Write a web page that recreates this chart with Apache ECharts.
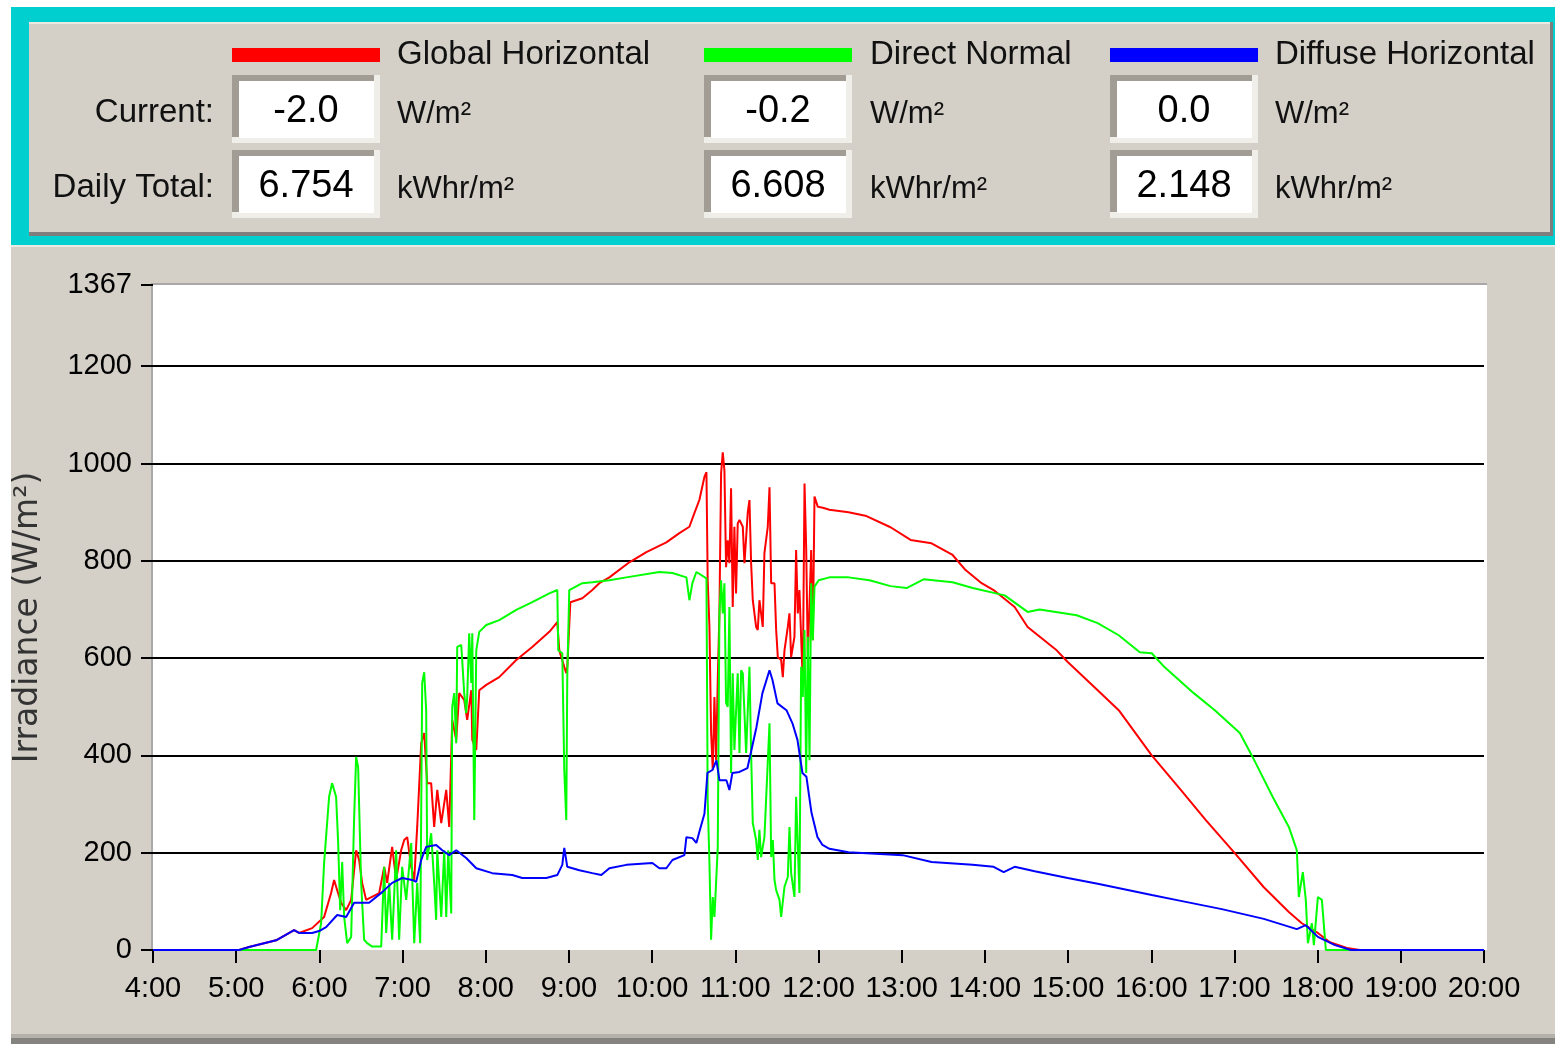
<!DOCTYPE html>
<html>
<head>
<meta charset="utf-8">
<script src="https://cdn.jsdelivr.net/npm/echarts@6/dist/echarts.min.js"></script>
<style>
html,body{margin:0;padding:0;background:#ffffff;}
#chart{width:1555px;height:1044px;}
</style>
</head>
<body>
<div id="chart"></div>
<script>
// ---------- data ----------
const seriesNames = ['Global Horizontal', 'Direct Normal', 'Diffuse Horizontal'];
const currentValues = ['-2.0', '-0.2', '0.0'];
const dailyTotals = ['6.754', '6.608', '2.148'];
const currentUnit = 'W/m²';
const totalUnit = 'kWhr/m²';
const rowLabels = ['Current:', 'Daily Total:'];
const yAxisTitle = 'Irradiance (W/m²)';
const yMin = 0, yMax = 1367, yStep = 200;
const xMinHour = 4, xMaxHour = 20;

// [hour, W/m²]
const globalHorizontal = [
  [4.0,0],[5.035,0],[5.155,6],[5.48,20],[5.696,41],[5.756,35],[5.913,45],[6.057,68],[6.141,117],[6.177,144],
  [6.214,123],[6.262,97],[6.322,82],[6.382,103],[6.442,205],[6.478,185],[6.514,138],[6.562,103],[6.719,117],
  [6.779,171],[6.815,138],[6.875,212],[6.923,144],[6.983,205],[7.020,226],[7.056,232],[7.104,171],[7.140,144],
  [7.176,253],[7.224,425],[7.260,446],[7.296,343],[7.344,343],[7.380,253],[7.417,329],[7.465,261],[7.525,329],
  [7.561,253],[7.597,473],[7.645,432],[7.681,528],[7.741,514],[7.777,473],[7.826,534],[7.838,432],[7.886,411],
  [7.922,534],[8.006,545],[8.162,561],[8.367,596],[8.559,623],[8.764,654],[8.860,674],[8.884,616],[8.944,582],
  [8.968,569],[8.980,582],[9.017,715],[9.161,723],[9.281,740],[9.365,754],[9.486,766],[9.726,797],[9.931,818],
  [10.171,838],[10.328,857],[10.448,870],[10.508,898],[10.568,925],[10.629,973],[10.653,982],
  [10.668,760],[10.689,664],[10.709,446],[10.729,370],[10.749,520],[10.769,390],[10.789,555],[10.809,692],
  [10.829,980],[10.849,1023],[10.869,986],[10.889,787],[10.909,842],[10.929,795],[10.949,949],[10.969,705],
  [10.989,870],[11.009,733],[11.029,877],[11.050,884],[11.090,870],[11.110,795],[11.150,900],[11.170,925],
  [11.190,795],[11.210,719],[11.250,664],[11.270,658],[11.290,719],[11.330,664],[11.350,816],[11.390,870],
  [11.411,951],[11.431,754],[11.471,754],[11.491,658],[11.511,602],[11.551,596],[11.571,561],[11.591,616],
  [11.631,664],[11.651,692],[11.671,602],[11.711,644],[11.731,822],[11.751,692],[11.771,740],[11.811,549],
  [11.832,959],[11.852,826],[11.872,602],[11.912,822],[11.932,637],[11.952,932],[11.992,911],[12.052,909],
  [12.132,905],[12.361,900],[12.577,892],[12.866,869],[13.107,843],[13.359,836],[13.612,812],[13.768,781],
  [13.961,754],[14.105,740],[14.358,705],[14.514,664],[14.863,616],[14.996,592],[15.356,534],[15.609,493],
  [16.006,400],[16.355,329],[16.656,267],[17.004,199],[17.353,129],[17.654,78],[17.810,55],[18.003,35],
  [18.147,16],[18.352,4],[18.508,0],[20.0,0]
];

const directNormal = [
  [4.0,0],[5.961,0],[6.021,55],[6.057,179],[6.117,315],[6.153,343],[6.177,345],[6.201,315],[6.226,220],
  [6.250,82],[6.274,181],[6.298,68],[6.334,14],[6.382,27],[6.418,273],[6.442,397],[6.466,376],[6.502,138],
  [6.538,21],[6.574,14],[6.635,7],[6.743,7],[6.779,171],[6.803,35],[6.839,138],[6.875,21],[6.923,205],
  [6.959,21],[6.995,171],[7.044,103],[7.104,220],[7.140,14],[7.176,138],[7.212,14],[7.236,549],[7.260,571],
  [7.284,493],[7.296,185],[7.344,240],[7.380,138],[7.404,62],[7.417,205],[7.465,68],[7.501,205],[7.525,68],
  [7.549,205],[7.585,75],[7.597,500],[7.621,528],[7.645,425],[7.657,623],[7.705,627],[7.717,596],[7.741,528],
  [7.765,487],[7.777,520],[7.801,651],[7.826,549],[7.838,651],[7.862,267],[7.886,616],[7.922,654],[8.006,668],
  [8.162,678],[8.367,699],[8.559,715],[8.764,733],[8.860,740],[8.872,616],[8.920,610],[8.944,370],[8.968,267],
  [8.980,561],[9.004,740],[9.161,754],[9.281,756],[9.486,760],[9.690,766],[10.087,777],[10.244,775],
  [10.412,766],[10.448,719],[10.484,754],[10.532,777],[10.653,764],
  [10.668,308],[10.689,179],[10.709,21],[10.729,109],[10.749,68],[10.769,138],[10.789,212],[10.809,692],
  [10.829,760],[10.849,692],[10.869,754],[10.889,508],[10.909,500],[10.929,705],[10.949,364],[10.969,569],
  [10.989,411],[11.029,569],[11.050,405],[11.070,575],[11.090,569],[11.110,487],[11.130,405],[11.170,582],
  [11.190,405],[11.210,261],[11.250,226],[11.270,185],[11.290,247],[11.310,191],[11.350,232],[11.411,466],
  [11.431,191],[11.451,226],[11.471,144],[11.491,123],[11.531,103],[11.551,68],[11.591,130],[11.631,150],
  [11.651,253],[11.671,158],[11.711,109],[11.731,315],[11.771,117],[11.791,582],[11.811,520],[11.832,658],
  [11.852,364],[11.872,644],[11.892,390],[11.912,754],[11.932,637],[11.952,747],[12.002,760],[12.132,766],
  [12.361,766],[12.613,760],[12.866,748],[13.059,744],[13.263,762],[13.612,756],[13.853,744],[14.238,729],
  [14.514,695],[14.659,700],[15.104,688],[15.356,672],[15.609,647],[15.862,612],[16.006,610],[16.162,581],
  [16.511,528],[16.764,493],[17.065,446],[17.209,400],[17.462,314],[17.654,253],[17.750,205],[17.774,109],
  [17.822,160],[17.858,103],[17.883,14],[17.931,55],[17.955,10],[18.003,109],[18.051,103],[18.099,0],[20.0,0]
];

const diffuseHorizontal = [
  [4.0,0],[5.035,0],[5.155,6],[5.48,20],[5.696,41],[5.756,35],[5.913,35],[5.997,39],[6.081,47],[6.214,72],
  [6.322,68],[6.418,97],[6.598,97],[6.755,119],[6.875,138],[6.995,148],[7.116,144],[7.164,140],[7.224,185],
  [7.284,212],[7.404,216],[7.477,205],[7.561,195],[7.645,205],[7.765,189],[7.886,168],[8.078,158],[8.319,154],
  [8.439,148],[8.728,148],[8.860,154],[8.920,175],[8.944,210],[8.980,171],[9.125,164],[9.281,158],[9.389,154],
  [9.486,168],[9.690,175],[10.003,179],[10.087,168],[10.171,168],[10.244,185],[10.388,195],[10.412,232],
  [10.484,230],[10.532,220],[10.568,243],[10.629,280],[10.665,364],[10.725,370],[10.773,390],[10.809,349],
  [10.893,349],[10.929,329],[10.965,364],[11.050,366],[11.146,374],[11.194,411],[11.254,458],[11.326,528],
  [11.411,575],[11.447,555],[11.507,507],[11.615,493],[11.687,466],[11.747,432],[11.807,364],[11.855,356],
  [11.916,282],[11.988,232],[12.048,216],[12.132,208],[12.361,201],[13.011,195],[13.359,181],[13.853,175],
  [14.105,171],[14.226,160],[14.358,171],[14.599,162],[14.996,148],[15.356,136],[16.006,113],[16.355,101],
  [16.848,84],[17.353,64],[17.750,43],[17.858,51],[18.003,27],[18.208,10],[18.400,0],[20.0,0]
];

// ---------- styling ----------
const FONT = '"Liberation Sans", Arial, sans-serif';
const colRed = '#ff0000', colGreen = '#00ff00', colBlue = '#0000ff';
const panelGray = '#d4d0c8';
const cyan = '#00cfcf';

const colBarLeft = [232, 704, 1110];
const colTextLeft = [397, 870, 1275];
const colColors = [colRed, colGreen, colBlue];

const graphics = [];
function rect(x, y, w, h, fill, z) {
  graphics.push({type: 'rect', silent: true, z: z === undefined ? -10 : z,
    shape: {x: x, y: y, width: w, height: h}, style: {fill: fill}});
}
function text(t, x, y, size, align, fill, family) {
  graphics.push({type: 'text', silent: true, z: -5, x: x, y: y,
    style: {text: t, font: size + 'px ' + (family || FONT), fill: fill || '#111', align: align || 'left', verticalAlign: 'middle'}});
}

// outer cyan frame for header
rect(11, 7, 1544, 238, cyan);
// header panel with shadow
rect(29, 22, 1524, 214, '#7e7e7e');
rect(29, 22, 1521, 210, panelGray);
rect(29, 22, 1521, 2, '#ece9e3');
// lower panel
rect(11, 245, 1544, 799, panelGray);
rect(11, 1034, 1544, 4, '#b4b1aa');
rect(11, 1038, 1544, 6, '#858380');
rect(11, 245, 1544, 2, '#ece9e3');
// plot area
rect(152, 284, 1335, 666, '#ffffff');
rect(151, 283, 1336, 2, '#a8a8a8');
rect(151, 283, 2, 667, '#a8a8a8');

// header: legend bars, names, value boxes
for (let i = 0; i < 3; i++) {
  rect(colBarLeft[i], 48, 148, 14, colColors[i], -5);
  text(seriesNames[i], colTextLeft[i], 55, 33, 'left');
  const rows = [[currentValues[i], currentUnit, 75], [dailyTotals[i], totalUnit, 150]];
  rows.forEach(function (r) {
    const bx = colBarLeft[i], by = r[2];
    rect(bx, by, 148, 68, '#f0eee9', -6);
    rect(bx, by, 142, 62, '#a19d95', -6);
    rect(bx + 7, by + 6, 135, 57, '#ffffff', -5);
    text(r[0], bx + 74, by + 37, 38, 'center', '#000');
    text(r[1], colTextLeft[i], by + 39, 31, 'left');
  });
}
text(rowLabels[0], 214, 113, 33, 'right');
text(rowLabels[1], 214, 188, 33, 'right');

const chart = echarts.init(document.getElementById('chart'), null, {renderer: 'canvas'});
chart.setOption({
  animation: false,
  backgroundColor: '#ffffff',
  graphic: {elements: graphics},
  grid: {left: 153, right: 71, top: 285, bottom: 94, containLabel: false},
  xAxis: {
    type: 'value', min: xMinHour, max: xMaxHour, interval: 1,
    axisLine: {show: false},
    axisTick: {show: true, length: 13, lineStyle: {color: '#000', width: 2}},
    axisLabel: {fontFamily: FONT, fontSize: 29, color: '#000', margin: 24,
      formatter: function (v) { return v + ':00'; }},
    splitLine: {show: false}
  },
  yAxis: {
    type: 'value', min: yMin, max: yMax, interval: yStep,
    name: yAxisTitle, nameLocation: 'middle', nameGap: 108, nameRotate: 90,
    nameTextStyle: {fontFamily: '"DejaVu Sans", sans-serif', fontSize: 33, color: '#333'},
    axisLine: {show: false},
    axisTick: {show: true, length: 12, lineStyle: {color: '#000', width: 2}},
    axisLabel: {fontFamily: FONT, fontSize: 29, color: '#000', margin: 21,
      formatter: function (v) { return String(v); }},
    splitLine: {show: true, showMinLine: false, showMaxLine: false, lineStyle: {color: '#000', width: 2}}
  },
  series: [
    {name: seriesNames[0], type: 'line', data: globalHorizontal, showSymbol: false, symbol: 'none',
      lineStyle: {color: colRed, width: 2}, itemStyle: {color: colRed}, z: 2},
    {name: seriesNames[1], type: 'line', data: directNormal, showSymbol: false, symbol: 'none',
      lineStyle: {color: colGreen, width: 2}, itemStyle: {color: colGreen}, z: 3},
    {name: seriesNames[2], type: 'line', data: diffuseHorizontal, showSymbol: false, symbol: 'none',
      lineStyle: {color: colBlue, width: 2}, itemStyle: {color: colBlue}, z: 4}
  ]
});
</script>
</body>
</html>
